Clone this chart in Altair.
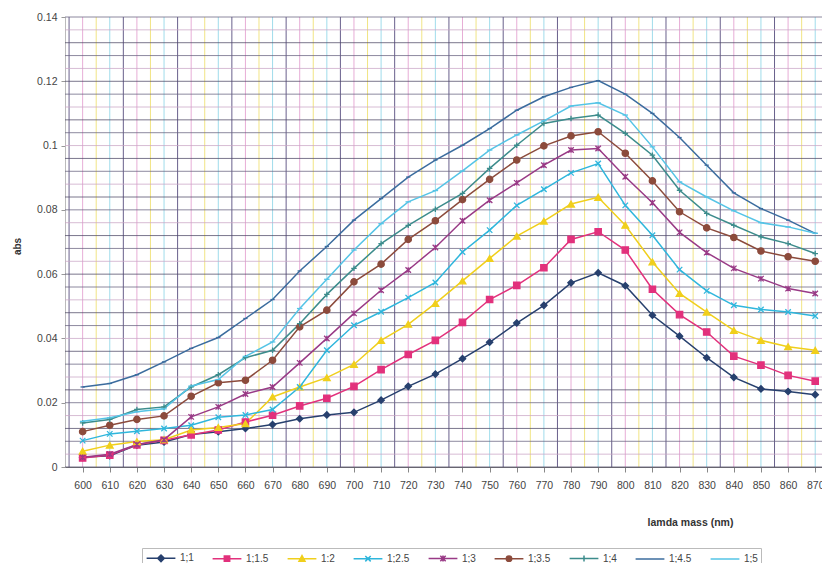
import altair as alt
import pandas as pd

wavelength = list(range(600, 871, 10))
series_names = ["1;1", "1;1.5", "1:2", "1;2.5", "1;3", "1;3.5", "1;4", "1;4.5", "1;5"]

s_1_1 = [0.003, 0.0035, 0.0068, 0.0078, 0.0101, 0.011, 0.012, 0.0132, 0.015, 0.0162, 0.017, 0.0208, 0.0251, 0.0289,
         0.0337, 0.0388, 0.0448, 0.0503, 0.0573, 0.0604, 0.0564, 0.0472, 0.0407, 0.034, 0.0279, 0.0243, 0.0235, 0.0225]
s_1_15 = [0.0028, 0.0037, 0.0069, 0.0083, 0.01, 0.0115, 0.014, 0.0161, 0.019, 0.0214, 0.0251, 0.0303, 0.035, 0.0394,
          0.045, 0.0521, 0.0565, 0.062, 0.0708, 0.0732, 0.0675, 0.0553, 0.0474, 0.042, 0.0345, 0.0317, 0.0285, 0.0267]
s_1_2 = [0.0049, 0.0068, 0.0079, 0.0085, 0.0115, 0.0123, 0.0135, 0.0218, 0.0249, 0.0278, 0.0319, 0.0394, 0.0444, 0.0509,
         0.0579, 0.0649, 0.0718, 0.0765, 0.0818, 0.0839, 0.0752, 0.0638, 0.054, 0.0482, 0.0425, 0.0394, 0.0374, 0.0363]
s_1_25 = [0.0082, 0.0103, 0.0111, 0.012, 0.013, 0.0155, 0.0162, 0.0179, 0.0249, 0.0363, 0.0441, 0.0483, 0.0527, 0.0574,
          0.0669, 0.0737, 0.0814, 0.0864, 0.0915, 0.0944, 0.0814, 0.0721, 0.0614, 0.0548, 0.0503, 0.049, 0.0482, 0.047]
s_1_3 = [0.003, 0.004, 0.007, 0.0085, 0.0156, 0.0187, 0.0227, 0.0249, 0.0324, 0.04, 0.0478, 0.055, 0.0613, 0.0683,
         0.0766, 0.083, 0.0884, 0.0939, 0.0986, 0.0991, 0.0903, 0.0822, 0.073, 0.0667, 0.0618, 0.0586, 0.0555, 0.054]
s_1_35 = [0.011, 0.013, 0.0148, 0.0159, 0.022, 0.0262, 0.027, 0.0332, 0.0436, 0.0488, 0.0576, 0.0631, 0.0708, 0.0766,
          0.0832, 0.0895, 0.0955, 0.0999, 0.103, 0.1043, 0.0976, 0.089, 0.0794, 0.0744, 0.0714, 0.0672, 0.0654, 0.064]
s_1_4 = [0.0137, 0.0148, 0.0179, 0.0187, 0.0249, 0.0287, 0.034, 0.0363, 0.0446, 0.0537, 0.0618, 0.0695, 0.0752, 0.0802,
         0.0851, 0.0929, 0.1001, 0.1069, 0.1084, 0.1095, 0.1038, 0.097, 0.0861, 0.0789, 0.0752, 0.0716, 0.0695, 0.0664]
s_1_45 = [0.0249, 0.026, 0.0287, 0.0327, 0.0369, 0.0403, 0.0462, 0.0521, 0.061, 0.0686, 0.0768, 0.0835, 0.0902, 0.0955,
          0.1001, 0.1053, 0.111, 0.1152, 0.1181, 0.1202, 0.116, 0.11, 0.1025, 0.0939, 0.0853, 0.0804, 0.0768, 0.0727]
s_1_5 = [0.0142, 0.0153, 0.0172, 0.0181, 0.0252, 0.0272, 0.0344, 0.0389, 0.0493, 0.0584, 0.0675, 0.0757, 0.0825, 0.086,
         0.0921, 0.0986, 0.1033, 0.1077, 0.1123, 0.1133, 0.1095, 0.0996, 0.0887, 0.084, 0.0797, 0.076, 0.0747, 0.0727]

all_series = [s_1_1, s_1_15, s_1_2, s_1_25, s_1_3, s_1_35, s_1_4, s_1_45, s_1_5]

y_ticks = [0, 0.02, 0.04, 0.06, 0.08, 0.1, 0.12, 0.14]
x_ticks = wavelength

series_colors = ["#27406e", "#e2317c", "#f0cf1c", "#2fb6dc", "#993a86", "#8c4b3c", "#3c8c8c", "#3b6c9e", "#55c4e6"]

plot_shapes = ["diamond", "square", "triangle-up", "M-1,-1L1,1M1,-1L-1,1", "M-1,-1L1,1M1,-1L-1,1M0,-1L0,1",
               "circle", "M-1,0H1M0,-1V1", "M-1,0H1", "M-1,0H1"]
plot_sizes = [40, 40, 45, 30, 30, 40, 30, 18, 30]

# legend symbols: short line with a small marker (path units: 1 = 6 px at symbolSize 144)
legend_shapes = [
    "M-2.4,0H2.4M0,-0.55L0.55,0L0,0.55L-0.55,0Z",
    "M-2.4,0H2.4M-0.45,-0.45H0.45V0.45H-0.45Z",
    "M-2.4,0H2.4M0,-0.55L0.5,0.4L-0.5,0.4Z",
    "M-2.4,0H2.4M-0.45,-0.45L0.45,0.45M0.45,-0.45L-0.45,0.45",
    "M-2.4,0H2.4M-0.45,-0.45L0.45,0.45M0.45,-0.45L-0.45,0.45M0,-0.5V0.5",
    "M-2.4,0H2.4M0.45,0A0.45,0.45 0 1,1 -0.45,0A0.45,0.45 0 1,1 0.45,0Z",
    "M-2.4,0H2.4M0,-0.5V0.5",
    "M-2.4,0H2.4",
    "M-2.4,0H2.4",
]

rows = []
for name, vals in zip(series_names, all_series):
    for w, v in zip(wavelength, vals):
        rows.append({"wavelength": w, "abs": v, "series": name})
df = pd.DataFrame(rows)

# graph-paper grid
grid_x = list(range(595, 875, 5))
grid_x_colors = ["#4f4478", "#e39fcf", "#efdf70", "#8fd6e8"]
grid_y = [round(i * 0.004, 3) for i in range(0, 36)]
grid_y_colors = ["#4d4866", "#c9a6c6", "#67627f"]

x_scale = alt.Scale(domain=[593.5, 872.5], nice=False, zero=False)
y_scale = alt.Scale(domain=[0, 0.14], nice=False)
color_scale = alt.Scale(domain=series_names, range=series_colors)

x_axis = alt.Axis(values=x_ticks, format="d", title="lamda mass (nm)", grid=False,
                  labelFontSize=10.5, labelColor="#444", tickSize=5, tickColor="#888",
                  labelPadding=8, domainColor="#777", labelFlush=False, labelOverlap=False,
                  titleX=625, titleY=55, titleBaseline="middle", titleAlign="center",
                  titleFontSize=10.5, titleFontWeight="bold", titleColor="#333")
y_axis = alt.Axis(values=y_ticks, format="~g", title="abs", grid=False,
                  labelFontSize=10.5, labelColor="#444", tickSize=4, tickColor="#999",
                  domainColor="#bbb", labelPadding=4,
                  titleX=-48, titleY=229, titleFontSize=10, titleFontWeight="bold",
                  titleColor="#333", titleAlign="center", titleBaseline="middle")

legend = alt.Legend(title=None, orient="none", direction="horizontal", columns=9,
                    legendX=77, legendY=531, symbolSize=144, symbolStrokeWidth=1.5,
                    symbolOffset=9, labelFontSize=10, labelColor="#444", labelOffset=12,
                    columnPadding=15, padding=3, strokeColor="#bbb", symbolOpacity=1)

layers = []
for i, c in enumerate(grid_x_colors):
    gx = pd.DataFrame({"g": [g for k, g in enumerate(grid_x) if k % len(grid_x_colors) == i]})
    layers.append(alt.Chart(gx).mark_rule(color=c, strokeWidth=1, opacity=0.85).encode(
        x=alt.X("g:Q", scale=x_scale, axis=x_axis)))
for i, c in enumerate(grid_y_colors):
    gy = pd.DataFrame({"g": [g for k, g in enumerate(grid_y) if k % len(grid_y_colors) == i]})
    layers.append(alt.Chart(gy).mark_rule(color=c, strokeWidth=1, opacity=0.75).encode(
        y=alt.Y("g:Q", scale=y_scale, axis=y_axis)))

x_enc = alt.X("wavelength:Q", scale=x_scale, axis=x_axis)
y_enc = alt.Y("abs:Q", scale=y_scale, axis=y_axis)

legend_layer = alt.Chart(df).mark_point(filled=True, opacity=1, strokeWidth=1.5, size=0).encode(
    x=x_enc, y=y_enc,
    color=alt.Color("series:N", scale=color_scale, legend=legend),
    stroke=alt.Stroke("series:N", scale=alt.Scale(domain=series_names, range=series_colors), legend=legend),
    shape=alt.Shape("series:N", scale=alt.Scale(domain=series_names, range=legend_shapes), legend=legend),
)
layers.append(legend_layer)

lines = alt.Chart(df).mark_line(strokeWidth=1.5).encode(
    x=x_enc, y=y_enc,
    color=alt.Color("series:N", scale=color_scale, legend=legend),
    detail="series:N",
    order="wavelength:Q",
)
layers.append(lines)

for name, col, shp, sz in zip(series_names, series_colors, plot_shapes, plot_sizes):
    layers.append(
        alt.Chart(df).transform_filter(alt.datum.series == name).mark_point(
            shape=shp, size=sz, filled=True, fill=col, stroke=col, strokeWidth=1.3, opacity=1
        ).encode(x=x_enc, y=y_enc)
    )

chart = alt.layer(*layers).properties(
    width=757, height=450,
    autosize=alt.AutoSizeParams(type="none"),
    padding={"left": 57, "top": 9, "right": 0, "bottom": 96},
).configure(font="Liberation Sans").configure_view(stroke=None)

chart.save("out.html", embed_options={"renderer": "svg", "actions": False})
